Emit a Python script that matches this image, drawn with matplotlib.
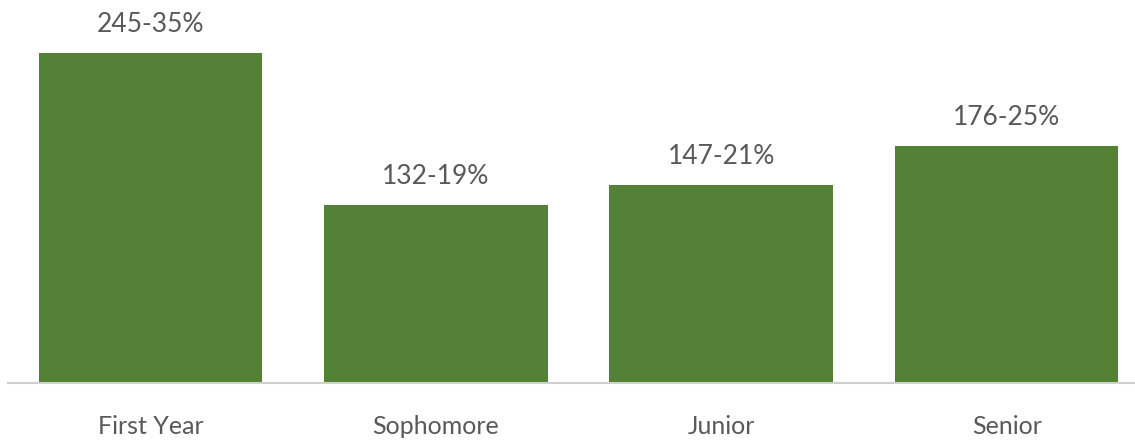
import matplotlib
matplotlib.use("Agg")
import matplotlib.pyplot as plt

categories = ["First Year", "Sophomore", "Junior", "Senior"]
counts = [245, 132, 147, 176]
percents = [35, 19, 21, 25]

W, H = 1135, 442
fig = plt.figure(figsize=(W / 100, H / 100), dpi=100)

px_per_unit = (383 - 53) / 245
ax_bottom_px = H - 383
ax_height_px = 380
left_px = 7.7
width_px = 285.4 * 4
ax = fig.add_axes([left_px / W, ax_bottom_px / H, width_px / W, ax_height_px / H])

x = list(range(len(categories)))
ax.bar(x, counts, width=0.783, color="#538135", zorder=2)
ax.set_xlim(-0.5, len(categories) - 0.5)
ax.set_ylim(0, ax_height_px / px_per_unit)

for xi, c, p in zip(x, counts, percents):
    ax.annotate(f"{c}-{p}%", (xi, c), xytext=(0, 21), textcoords="offset pixels",
                ha="center", va="baseline", fontsize=19, color="#595959", family="Lato")

ax.set_xticks(x)
ax.set_xticklabels(categories, fontsize=18, color="#595959", family="Lato")
ax.tick_params(axis="x", length=0, pad=23)
ax.set_yticks([])
for s in ["top", "right", "left"]:
    ax.spines[s].set_visible(False)
ax.spines["bottom"].set_color("#d0d0d0")
ax.spines["bottom"].set_linewidth(1.5)

fig.savefig("out.png", dpi=100)
